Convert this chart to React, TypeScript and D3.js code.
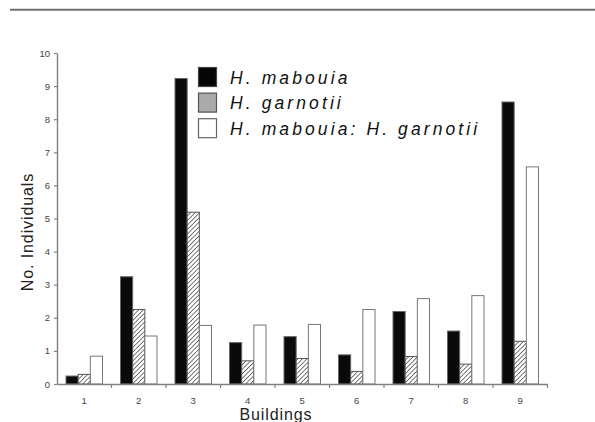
import React, { useEffect, useRef } from 'react';
import * as d3 from 'd3';

const buildings = ['1', '2', '3', '4', '5', '6', '7', '8', '9'];
const mabouia = [0.24, 3.24, 9.23, 1.25, 1.43, 0.88, 2.19, 1.6, 8.52];
const garnotii = [0.29, 2.25, 5.19, 0.7, 0.77, 0.38, 0.83, 0.6, 1.29];
const mixed = [0.84, 1.45, 1.77, 1.78, 1.8, 2.25, 2.58, 2.67, 6.56];
const seriesNames = ['H. mabouia', 'H. garnotii', 'H. mabouia: H. garnotii'];
const yTicks = [0, 1, 2, 3, 4, 5, 6, 7, 8, 9, 10];

export default function App() {
    const ref = useRef<SVGSVGElement>(null);

    useEffect(() => {
        const width = 595;
        const height = 422;
        const svg = d3.select(ref.current);
        svg.selectAll('*').remove();
        svg.attr('width', width).attr('height', height);

        const left = 57, right = 547.5, top = 53, bottom = 384;

        const defs = svg.append('defs');
        const pat = defs.append('pattern')
            .attr('id', 'hatch')
            .attr('patternUnits', 'userSpaceOnUse')
            .attr('width', 3.2)
            .attr('height', 3.2)
            .attr('patternTransform', 'rotate(45)');
        pat.append('rect').attr('width', 3.2).attr('height', 3.2).attr('fill', '#fff');
        pat.append('line')
            .attr('x1', 0).attr('y1', 0).attr('x2', 0).attr('y2', 3.2)
            .attr('stroke', '#333').attr('stroke-width', 1.3);

        // grey rule across the top of the page
        svg.append('line')
            .attr('x1', 10).attr('x2', width)
            .attr('y1', 9.7).attr('y2', 9.7)
            .attr('stroke', '#707070').attr('stroke-width', 2);

        const x = d3.scaleBand().domain(buildings).range([left, right]).padding(0);
        const x1 = d3.scaleBand().domain(seriesNames).range([0, x.bandwidth()])
            .paddingInner(0).paddingOuter(0.74);
        const y = d3.scaleLinear().domain([0, 10]).range([bottom, top]);

        const fills = ['#0a0a0a', 'url(#hatch)', '#fff'];
        const strokes = ['#666', '#555', '#777'];
        const series = [mabouia, garnotii, mixed];

        series.forEach((vals, si) => {
            svg.append('g').selectAll('rect')
                .data(vals)
                .enter().append('rect')
                .attr('x', (d, i) => x(buildings[i])! + x1(seriesNames[si])!)
                .attr('y', d => y(d))
                .attr('width', x1.bandwidth())
                .attr('height', d => bottom - y(d))
                .attr('fill', fills[si])
                .attr('stroke', strokes[si])
                .attr('stroke-width', 1);
        });

        // y axis
        const gy = svg.append('g')
            .attr('transform', `translate(${left},0)`)
            .call(d3.axisLeft(y).tickValues(yTicks).tickSize(3).tickSizeOuter(0).tickPadding(4));
        gy.select('.domain').attr('stroke', '#808080').attr('stroke-width', 1.4);
        gy.selectAll('.tick line').attr('stroke', '#808080').attr('stroke-width', 1.2);
        gy.selectAll('.tick text')
            .attr('font-family', 'Liberation Sans, Arial, sans-serif')
            .attr('font-size', 9.5)
            .attr('fill', '#444');

        // x axis: labels centred on bands, ticks on band boundaries
        const gx = svg.append('g')
            .attr('transform', `translate(0,${bottom})`)
            .call(d3.axisBottom(x).tickSize(0).tickSizeOuter(0).tickPadding(13));
        gx.select('.domain').attr('stroke', '#808080').attr('stroke-width', 1.4);
        gx.selectAll('.tick text')
            .attr('font-family', 'Liberation Sans, Arial, sans-serif')
            .attr('font-size', 9.5)
            .attr('fill', '#444');
        gx.selectAll('.boundary')
            .data(buildings)
            .enter().append('line')
            .attr('class', 'boundary')
            .attr('x1', d => x(d)! + x.bandwidth())
            .attr('x2', d => x(d)! + x.bandwidth())
            .attr('y1', 0).attr('y2', 4)
            .attr('stroke', '#808080').attr('stroke-width', 1.2);

        svg.append('text')
            .attr('x', 276)
            .attr('y', 420)
            .attr('text-anchor', 'middle')
            .attr('font-family', 'Liberation Sans, Arial, sans-serif')
            .attr('font-size', 16)
            .attr('letter-spacing', 0.9)
            .attr('fill', '#222')
            .text('Buildings');

        svg.append('text')
            .attr('text-anchor', 'middle')
            .attr('transform', `translate(33.3,232) rotate(-90)`)
            .attr('font-family', 'Liberation Sans, Arial, sans-serif')
            .attr('font-size', 16)
            .attr('letter-spacing', 0.9)
            .attr('fill', '#222')
            .text('No. Individuals');

        // legend
        const legendFills = ['#050505', '#aaa', '#fff'];
        const legendStrokes = ['#444', '#555', '#666'];
        const lg = svg.append('g');
        seriesNames.forEach((name, i) => {
            const ly = 67.5 + i * 25.6;
            lg.append('rect')
                .attr('x', 198.5).attr('y', ly)
                .attr('width', 18).attr('height', 19)
                .attr('fill', legendFills[i])
                .attr('stroke', legendStrokes[i])
                .attr('stroke-width', 1.2);
            lg.append('text')
                .attr('x', 230)
                .attr('y', ly + 16.2)
                .attr('font-family', 'Liberation Sans, Arial, sans-serif')
                .attr('font-style', 'italic')
                .attr('font-size', 17.5)
                .attr('letter-spacing', 3.1)
                .attr('fill', '#111')
                .text(name);
        });
    }, []);

    return <svg ref={ref} style={{ position: 'absolute', left: 0, top: 0 }}></svg>;
}
